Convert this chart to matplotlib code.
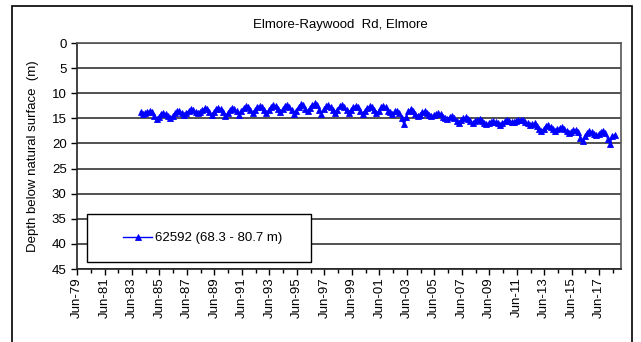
import matplotlib
matplotlib.use("Agg")
import matplotlib.pyplot as plt
from matplotlib.patches import Rectangle
from datetime import datetime

plt.rcParams['font.family'] = ['Liberation Sans', 'DejaVu Sans']

title = "Elmore-Raywood  Rd, Elmore"
ylabel = "Depth below natural surface  (m)"
series_label = "62592 (68.3 - 80.7 m)"

years = list(range(1984, 2019))
months = [1, 3, 5, 7, 9, 11]
depth_by_year = [
    [13.7, 14.1, 14.0, 13.7, 13.5, 13.8],  # 1984
    [14.6, 15.2, 14.8, 14.2, 13.9, 14.1],
    [14.5, 14.9, 14.5, 13.9, 13.5, 13.6],
    [13.9, 14.3, 14.0, 13.5, 13.2, 13.4],
    [13.7, 14.0, 13.8, 13.3, 13.0, 13.2],
    [13.8, 14.4, 13.8, 13.2, 13.0, 13.2],  # 1989
    [13.8, 14.6, 14.0, 13.4, 13.0, 13.2],
    [13.6, 14.3, 13.6, 12.9, 12.6, 12.8],
    [13.3, 13.9, 13.4, 12.8, 12.5, 12.7],
    [13.3, 14.0, 13.3, 12.7, 12.4, 12.6],
    [13.2, 13.8, 13.2, 12.6, 12.4, 12.7],  # 1994
    [13.4, 14.1, 13.5, 12.7, 12.2, 12.4],
    [13.1, 13.6, 13.0, 12.4, 12.0, 12.3],
    [13.3, 14.1, 13.2, 12.6, 12.4, 12.7],
    [13.3, 13.9, 13.3, 12.6, 12.4, 12.7],
    [13.4, 14.0, 13.4, 12.8, 12.5, 12.8],  # 1999
    [13.5, 14.1, 13.5, 12.9, 12.6, 12.8],
    [13.4, 14.0, 13.6, 12.8, 12.5, 12.8],
    [13.5, 13.8, 14.2, 13.6, 13.5, 13.9],
    [15.0, 16.2, 14.8, 13.6, 13.2, 13.5],
    [14.1, 14.5, 14.3, 13.8, 13.6, 13.9],  # 2004
    [14.3, 14.6, 14.4, 14.1, 14.0, 14.2],
    [14.7, 15.0, 15.2, 14.8, 14.6, 15.0],
    [15.6, 16.0, 15.4, 15.0, 14.8, 15.2],
    [15.6, 15.9, 15.6, 15.3, 15.2, 15.5],
    [15.9, 16.2, 16.0, 15.7, 15.6, 15.8],  # 2009
    [16.0, 16.3, 15.9, 15.6, 15.4, 15.6],
    [15.7, 15.8, 15.6, 15.4, 15.3, 15.4],
    [15.8, 16.0, 16.4, 16.1, 16.0, 16.5],
    [17.2, 17.6, 17.1, 16.6, 16.4, 16.7],
    [17.2, 17.6, 17.2, 16.9, 16.7, 17.1],  # 2014
    [17.6, 18.0, 17.7, 17.4, 17.3, 17.8],
    [18.9, 19.6, 18.6, 17.9, 17.6, 17.8],
    [18.1, 18.4, 18.2, 17.8, 17.6, 18.0],
    [19.2, 20.2, 18.5, 18.3],              # 2018
]

dates = []
depths = []
for y, row in zip(years, depth_by_year):
    for m, d in zip(months, row):
        dates.append(datetime(y, m, 15))
        depths.append(d)

tick_years = list(range(1979, 2018, 2))
minor_years = list(range(1979, 2019))

W, H = 641, 342
fig = plt.figure(figsize=(W / 100, H / 100), dpi=100)
ax = fig.add_axes([77 / W, 1 - 269 / H, (621 - 77) / W, (269 - 43) / H])

# outer border
fig.patches.append(Rectangle((12 / W, -0.02), (632 - 12) / W, 1 - 6 / H + 0.02,
                             transform=fig.transFigure, fill=False,
                             edgecolor='black', linewidth=1.2))

ax.plot(dates, depths, color='#0000FF', linewidth=1.0, marker='^',
        markersize=4, markeredgewidth=0.6, zorder=3)

ax.set_ylim(45, 0)
ax.set_yticks(range(0, 46, 5))
ax.set_xlim(datetime(1979, 6, 1), datetime(2019, 1, 1))
ax.set_xticks([datetime(y, 6, 1) for y in minor_years], minor=True)
ax.set_xticks([datetime(y, 6, 1) for y in tick_years])
ax.set_xticklabels(['Jun-%02d' % (y % 100) for y in tick_years],
                   rotation=90, fontsize=9.5)

ax.grid(axis='y', color='#333333', linewidth=1.2)
ax.set_axisbelow(True)
ax.tick_params(axis='y', labelsize=9.5, length=4, direction='out', width=1)
ax.tick_params(axis='x', which='major', length=4, width=1, pad=2)
ax.tick_params(axis='x', which='minor', length=3, width=1)

for s in ['top', 'right']:
    ax.spines[s].set_color('#555555')
    ax.spines[s].set_linewidth(1.2)
for s in ['left', 'bottom']:
    ax.spines[s].set_color('#222222')
    ax.spines[s].set_linewidth(1.2)

ax.set_ylabel(ylabel, fontsize=9.5, labelpad=9)
fig.text(340 / W, 1 - 25 / H, title, ha='center', va='center', fontsize=9.5)

# legend box
ax.add_patch(Rectangle(((87 - 77) / 544, (269 - 262) / 226),
                       (311 - 87) / 544, (262 - 214) / 226,
                       transform=ax.transAxes, facecolor='white',
                       edgecolor='black', linewidth=1.0, zorder=5))
leg = ax.legend([ax.lines[0]], [series_label], loc='center left',
                bbox_to_anchor=((123 - 77) / 544, (269 - 238) / 226),
                frameon=False, fontsize=9.5, handlelength=2.2,
                handletextpad=0.2, borderpad=0, borderaxespad=0)
leg.set_zorder(6)

fig.savefig('out.png', dpi=100)
